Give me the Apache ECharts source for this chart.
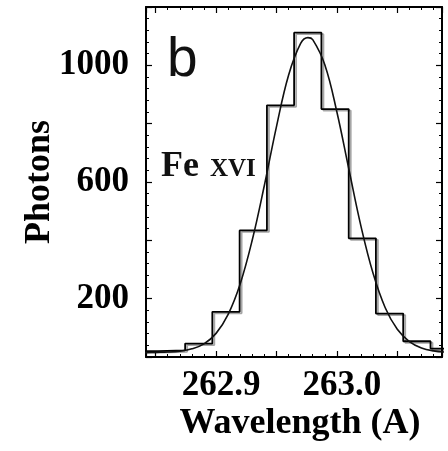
<!DOCTYPE html>
<html>
<head>
<meta charset="utf-8">
<script src="https://cdn.jsdelivr.net/npm/echarts@6/dist/echarts.min.js"></script>
<style>
  html, body { margin: 0; padding: 0; background: #fff; }
  #chart { width: 448px; height: 451px; }
</style>
</head>
<body>
<div id="chart"></div>
<script>
// Histogram: bin edges (Angstrom) and photon counts per bin
const binEdges = [262.8292, 262.8518, 262.8744, 262.8969, 262.9195, 262.9421, 262.9646,
                  262.9872, 263.0098, 263.0323, 263.0549, 263.0775, 263.1000];
const binCounts = [20, 23, 46, 155, 434, 863, 1112, 850, 407, 149, 54, 29];

// Fitted profile
const fitWavelengths = [262.84, 262.85, 262.86, 262.87, 262.88, 262.89, 262.90, 262.91, 262.92,
                        262.93, 262.94, 262.95, 262.96, 262.97, 262.976, 262.98, 262.99, 263.00,
                        263.01, 263.02, 263.03, 263.04, 263.05, 263.06, 263.07, 263.08, 263.09];
const fitCounts = [15, 16, 17, 20, 28, 45, 81, 146, 251, 402, 589, 790, 966, 1075, 1095, 1088,
                   1002, 840, 642, 447, 286, 169, 95, 53, 31, 21, 17];

const xTickLabels = ['262.9', '263.0'];
const yTickLabels = ['200', '600', '1000'];

const X_MIN = 262.842, X_MAX = 263.087;
const Y_MIN = 0, Y_MAX = 1200;

const serifBold = '"Liberation Serif", "Times New Roman", serif';

const stepData = binEdges.map((e, i) => [e, binCounts[Math.min(i, binCounts.length - 1)]]);
const fitData = fitWavelengths.map((w, i) => [w, fitCounts[i]]);

const chart = echarts.init(document.getElementById('chart'), null, { renderer: 'canvas' });

const axisLineStyle = { color: '#000', width: 2 };
const tickCommon = { show: true, inside: true, length: 6, lineStyle: { color: '#000', width: 1.2 } };
const minorCommon = { show: true, splitNumber: 5, length: 3, lineStyle: { color: '#000', width: 1 } };

chart.setOption({
  animation: false,
  backgroundColor: '#fff',
  grid: { left: 146, right: 6, top: 7, bottom: 94, containLabel: false },
  xAxis: [
    {
      type: 'value', position: 'bottom', min: X_MIN, max: X_MAX,
      splitNumber: 5, minInterval: 0.05, maxInterval: 0.05,
      axisLine: { show: true, onZero: false, lineStyle: axisLineStyle },
      axisTick: tickCommon, minorTick: minorCommon,
      splitLine: { show: false },
      axisLabel: {
        show: true, margin: 11, color: '#000',
        fontFamily: serifBold, fontWeight: 'bold', fontSize: 35,
        padding: [0, 0, 0, 10],
        showMinLabel: false, showMaxLabel: false,
        formatter: function (v) {
          for (const t of xTickLabels) { if (Math.abs(v - parseFloat(t)) < 1e-6) return t; }
          return '';
        }
      },
      name: 'Wavelength (A)', nameLocation: 'middle', nameGap: 49, nameMoveOverlap: false,
      nameTextStyle: { color: '#000', fontFamily: serifBold, fontWeight: 'bold', fontSize: 36, padding: [0, 0, 0, 12] }
    },
    {
      type: 'value', position: 'top', min: X_MIN, max: X_MAX,
      splitNumber: 5, minInterval: 0.05, maxInterval: 0.05,
      axisLine: { show: true, onZero: false, lineStyle: axisLineStyle },
      axisTick: tickCommon, minorTick: minorCommon,
      splitLine: { show: false }, axisLabel: { show: false }
    }
  ],
  yAxis: [
    {
      type: 'value', position: 'left', min: Y_MIN, max: Y_MAX, interval: 200,
      axisLine: { show: true, onZero: false, lineStyle: axisLineStyle },
      axisTick: tickCommon, minorTick: minorCommon,
      splitLine: { show: false },
      axisLabel: {
        show: true, margin: 17, color: '#000',
        fontFamily: serifBold, fontWeight: 'bold', fontSize: 35,
        formatter: function (v) { const s = String(v); return yTickLabels.includes(s) ? s : ''; }
      },
      name: 'Photons', nameLocation: 'middle', nameGap: 88, nameRotate: 90, nameMoveOverlap: false,
      nameTextStyle: { color: '#000', fontFamily: serifBold, fontWeight: 'bold', fontSize: 36 }
    },
    {
      type: 'value', position: 'right', min: Y_MIN, max: Y_MAX, interval: 200,
      axisLine: { show: true, onZero: false, lineStyle: axisLineStyle },
      axisTick: tickCommon, minorTick: minorCommon,
      splitLine: { show: false }, axisLabel: { show: false }
    }
  ],
  series: [
    {
      type: 'line', name: 'histogram', xAxisIndex: 0, yAxisIndex: 0,
      data: stepData, step: 'end', showSymbol: false, symbol: 'none',
      lineStyle: { color: '#000', width: 1.8, shadowColor: 'rgba(0,0,0,0.35)', shadowOffsetX: 2, shadowOffsetY: 1.5, shadowBlur: 0 },
      clip: true, z: 3
    },
    {
      type: 'line', name: 'fit', xAxisIndex: 0, yAxisIndex: 0,
      data: fitData, smooth: 0.4, showSymbol: false, symbol: 'none',
      lineStyle: { color: '#111', width: 1.6 },
      clip: true, z: 4
    }
  ],
  graphic: [
    { type: 'text', x: 167, y: 61,
      style: { text: 'b', font: '55px "Liberation Sans", Arial, sans-serif', fill: '#111', verticalAlign: 'middle', align: 'left' } },
    { type: 'text', x: 161, y: 167,
      style: { text: 'Fe', font: 'bold 36px "Liberation Serif", serif', fill: '#111', verticalAlign: 'middle', align: 'left' } },
    { type: 'text', x: 210, y: 170,
      style: { text: 'XVI', font: 'bold 25px "Liberation Serif", serif', fill: '#111', verticalAlign: 'middle', align: 'left' } }
  ]
});
</script>
</body>
</html>
